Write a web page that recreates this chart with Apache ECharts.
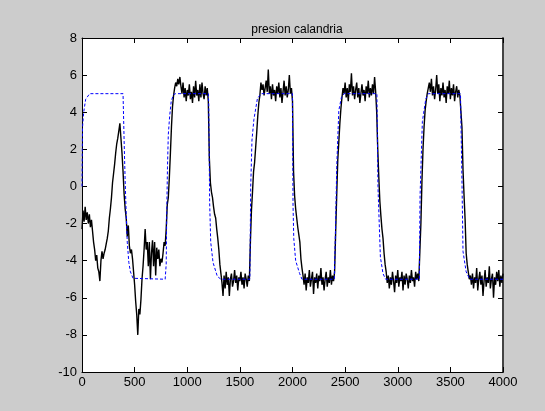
<!DOCTYPE html>
<html>
<head>
<meta charset="utf-8">
<script src="https://cdn.jsdelivr.net/npm/echarts@6/dist/echarts.min.js"></script>
<style>
html,body{margin:0;padding:0;background:#cccccc;}
#chart{width:545px;height:411px;}
</style>
</head>
<body>
<div id="chart"></div>
<script>
// ---- data ----
var titleText = 'presion calandria';
var xTicks = [0, 500, 1000, 1500, 2000, 2500, 3000, 3500, 4000];
var yTicks = [-10, -8, -6, -4, -2, 0, 2, 4, 6, 8];

// measured signal (black), sampled every 10 time units starting at 0
var measStep = 10;
var measured = [
  -2.3, -1.3, -1.9, -1.1, -1.8, -1.4, -2.0, -1.5, -2.2, -1.8,   // 0
  -2.4, -3.0, -3.4, -4.0, -3.7, -4.4, -4.6, -5.1, -4.0, -3.5,   // 100
  -3.9, -3.6, -3.4, -3.1, -2.8, -2.4, -1.7, -1.2, -0.6, 0.2,    // 200
  0.7, 1.2, 1.8, 2.3, 2.6, 3.0, 3.4, 2.6, 1.8, 0.8,             // 300
  -0.4, -1.2, -1.7, -2.7, -2.1, -3.2, -3.6, -3.4, -3.9, -4.6,   // 400
  -5.3, -6.2, -6.9, -8.0, -6.6, -6.9, -6.1, -5.0, -4.3, -3.4,   // 500
  -2.3, -3.4, -3.0, -4.3, -3.0, -5.0, -3.6, -2.9, -4.3, -3.0,   // 600
  -4.8, -3.3, -3.9, -3.4, -4.3, -3.9, -4.1, -3.6, -3.0, -3.2,   // 700
  -2.3, -1.0, -0.6, 0.5, 1.8, 3.2, 4.3, 4.9, 5.3, 5.6,          // 800
  5.4, 5.8, 5.5, 5.9, 5.4, 5.0, 5.6, 4.8, 5.3, 4.6,             // 900
  5.2, 4.9, 5.5, 4.7, 5.1, 4.5, 5.4, 4.8, 5.7, 4.9,             // 1000
  5.2, 4.6, 5.5, 4.8, 5.6, 5.0, 4.7, 5.4, 4.9, 5.3,             // 1100
  4.6, 1.5, 0.2, -0.3, -0.6, -1.1, -1.5, -1.7, -2.3, -2.8,      // 1200
  -3.4, -4.2, -4.7, -5.2, -5.9, -4.8, -5.5, -4.6, -5.3, -4.9,   // 1300
  -5.9, -5.0, -4.7, -5.4, -5.1, -4.5, -5.2, -4.8, -5.6, -4.9,   // 1400
  -5.1, -4.6, -5.3, -4.9, -5.5, -4.7, -5.0, -5.4, -4.8, -5.1,   // 1500
  -3.0, -1.3, -0.3, 0.8, 1.3, 2.1, 2.9, 3.8, 4.5, 4.9,          // 1600
  5.6, 5.2, 5.5, 4.9, 5.3, 5.7, 5.1, 6.3, 5.0, 5.4,             // 1700
  4.7, 5.5, 4.9, 5.2, 4.6, 5.4, 5.0, 5.6, 4.8, 5.3,             // 1800
  4.5, 5.1, 5.7, 4.9, 5.4, 4.8, 5.2, 6.0, 5.0, 5.3,             // 1900
  4.6, 0.8, -0.5, -1.2, -1.7, -2.2, -2.6, -3.0, -3.9, -4.4,     // 2000
  -4.8, -5.3, -4.7, -5.6, -4.9, -5.2, -4.5, -5.4, -5.0, -4.6,   // 2100
  -5.8, -4.9, -5.2, -4.7, -5.5, -4.8, -5.1, -4.4, -5.3, -4.9,   // 2200
  -5.6, -5.0, -4.6, -5.4, -4.9, -5.2, -4.5, -5.3, -4.8, -5.1,   // 2300
  -4.6, -2.5, -0.5, 1.4, 2.4, 3.4, 4.2, 4.8, 5.3, 5.0,          // 2400
  5.6, 4.8, 5.3, 4.6, 5.5, 5.1, 6.1, 4.9, 5.4, 4.7,             // 2500
  5.2, 5.6, 4.8, 5.3, 4.5, 5.0, 5.5, 4.9, 5.2, 4.6,             // 2600
  5.4, 5.0, 5.7, 4.8, 5.3, 4.9, 5.5, 5.0, 5.9, 5.1,             // 2700
  4.0, 2.0, 0.5, -0.8, -1.6, -2.3, -2.8, -3.6, -4.2, -4.6,      // 2800
  -5.2, -4.8, -5.5, -4.9, -5.3, -4.6, -5.1, -5.7, -4.8, -5.2,   // 2900
  -4.5, -5.4, -4.9, -5.1, -4.6, -5.6, -4.8, -5.3, -4.7, -5.0,   // 3000
  -5.5, -4.8, -5.2, -4.5, -5.1, -4.9, -5.4, -4.6, -5.0, -4.7,   // 3100
  -5.1, -3.5, -2.0, 0.3, 2.0, 3.2, 4.1, 4.6, 5.0, 5.3,          // 3200
  5.6, 5.1, 5.8, 4.9, 5.4, 4.7, 5.2, 6.0, 5.0, 5.5,             // 3300
  4.6, 5.3, 4.9, 5.6, 4.8, 5.2, 4.5, 5.4, 5.0, 5.7,             // 3400
  4.7, 5.3, 4.9, 5.5, 4.6, 5.1, 5.4, 4.8, 5.2, 4.9,             // 3500
  5.0, 3.2, 0.9, -0.5, -1.8, -3.6, -4.2, -4.6, -5.0, -4.8,      // 3600
  -5.3, -4.7, -5.5, -4.9, -5.2, -4.4, -5.6, -5.0, -4.6, -5.3,   // 3700
  -4.8, -5.9, -5.1, -4.5, -5.4, -4.9, -5.2, -4.3, -5.5, -5.0,   // 3800
  -4.7, -6.0, -4.9, -5.3, -4.6, -5.1, -4.5, -5.4, -4.8, -5.2,   // 3900
  -4.7                                                          // 4000
];

// reference signal (blue dashed), [time, value] points
var refTime = [0, 3, 5, 16, 35, 73, 390, 400, 410, 420, 430, 445, 460, 485, 500,
  790, 800, 805, 812, 820, 833, 848, 870, 890,
  1200, 1204, 1213, 1223, 1245, 1286, 1320,
  1595, 1603, 1615, 1633, 1667, 1704,
  1999, 2005, 2012, 2030, 2068, 2090,
  2397, 2410, 2420, 2440, 2465, 2490,
  2802, 2812, 2835, 2860, 2885,
  3205, 3212, 3234, 3266, 3290,
  3596, 3611, 3620, 3650, 3684, 4000];
var refValue = [0, 2, 3.2, 4.0, 4.7, 5, 5, 2.5, 0.3, -1.5, -3.0, -4.1, -4.6, -4.95, -5,
  -5, -4.2, -1.5, 1.0, 2.8, 3.8, 4.6, 4.95, 5,
  5, 4.5, -0.9, -3.0, -4.1, -4.85, -5,
  -5, 0, 2.5, 3.6, 4.75, 5,
  5, -1.0, -2.8, -4.0, -4.7, -5,
  -5, -2, 1, 4.1, 4.8, 5,
  5, 0, -3.8, -4.7, -5,
  -5, -0.5, 3.5, 4.7, 5,
  5, 0, -3.5, -4.6, -5, -5];

// ---- chart ----
var measData = measured.map(function (v, i) { return [i * measStep, v]; });
var refData = refTime.map(function (t, i) { return [t, refValue[i]]; });

var FONT = 'Liberation Sans, Arial, sans-serif';
var chart = echarts.init(document.getElementById('chart'), null, {renderer: 'canvas'});

var xMin = xTicks[0], xMax = xTicks[xTicks.length - 1], xInt = xTicks[1] - xTicks[0];
var yMin = yTicks[0], yMax = yTicks[yTicks.length - 1], yInt = yTicks[1] - yTicks[0];

function plain(v) { return String(v); }

function axisBase(extra) {
  var o = {
    type: 'value',
    axisLine: {show: true, onZero: false, lineStyle: {color: '#000', width: 1}},
    axisTick: {show: true, inside: true, length: 5, lineStyle: {color: '#000', width: 1}},
    splitLine: {show: false},
    axisLabel: {show: true, color: '#000', fontFamily: FONT, fontSize: 13, formatter: plain}
  };
  for (var k in extra) o[k] = extra[k];
  return o;
}

chart.setOption({
  animation: false,
  backgroundColor: '#cccccc',
  title: {
    text: titleText,
    left: 292,
    top: 19,
    textAlign: 'center',
    textStyle: {fontFamily: FONT, fontSize: 12, fontWeight: 'normal', color: '#000'}
  },
  grid: {
    left: 82, top: 38, right: 42, bottom: 39,
    show: true, backgroundColor: '#ffffff', borderWidth: 0
  },
  xAxis: [
    axisBase({min: xMin, max: xMax, interval: xInt, position: 'bottom',
      axisLabel: {color: '#000', fontFamily: FONT, fontSize: 13, margin: 4, formatter: plain}}),
    axisBase({min: xMin, max: xMax, interval: xInt, position: 'top',
      axisLabel: {show: false}})
  ],
  yAxis: [
    axisBase({min: yMin, max: yMax, interval: yInt, position: 'left',
      axisLabel: {color: '#000', fontFamily: FONT, fontSize: 13, margin: 5, formatter: plain}}),
    axisBase({min: yMin, max: yMax, interval: yInt, position: 'right',
      axisLabel: {show: false},
      axisLine: {show: true, onZero: false, lineStyle: {color: '#444', width: 2}}})
  ],
  series: [
    {
      type: 'line',
      xAxisIndex: 0, yAxisIndex: 0,
      data: measData,
      showSymbol: false,
      symbol: 'none',
      lineStyle: {color: '#000000', width: 1.4},
      z: 2
    },
    {
      type: 'line',
      xAxisIndex: 0, yAxisIndex: 0,
      data: refData,
      showSymbol: false,
      symbol: 'none',
      lineStyle: {color: '#0000ff', width: 1, type: [3, 2]},
      z: 3
    }
  ]
});
</script>
</body>
</html>
